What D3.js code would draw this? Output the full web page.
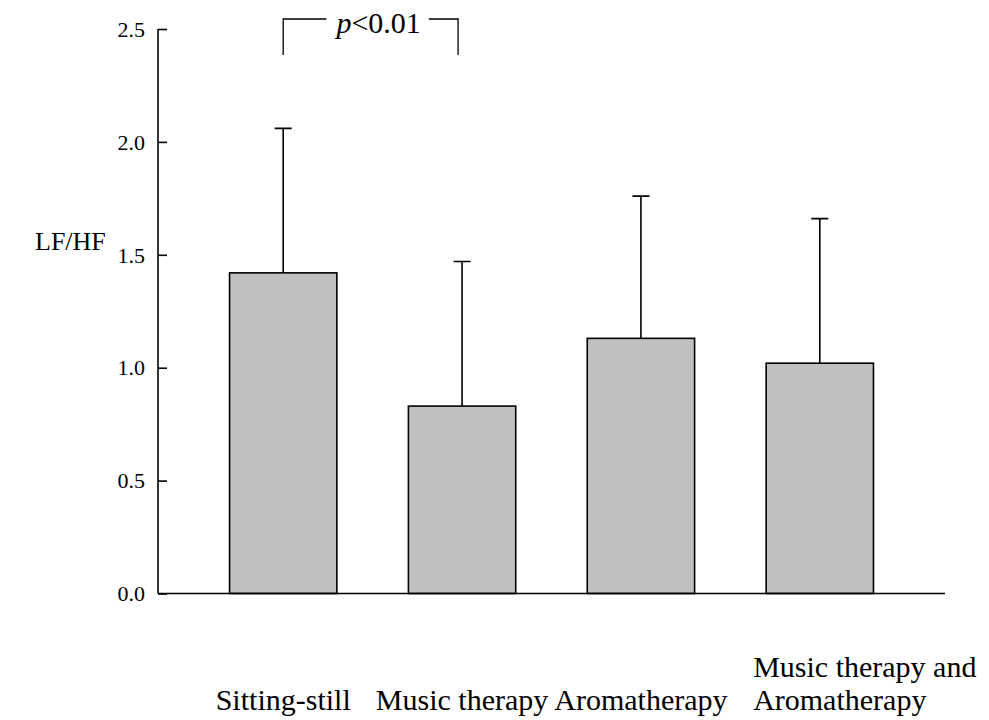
<!DOCTYPE html>
<html>
<head>
<meta charset="utf-8">
<script src="https://cdn.jsdelivr.net/npm/d3@7"></script>
<style>
    body { margin: 0; background: #fff; }
    text { font-family: "Liberation Serif", "Times New Roman", serif; fill: #000; }
</style>
</head>
<body>
<div id="chart"></div>
<script>
const categories = ["Sitting-still", "Music therapy", "Aromatherapy", "Music therapy and\nAromatherapy"];
const means = [1.42, 0.83, 1.13, 1.02];
const errors = [0.64, 0.64, 0.63, 0.64];   // upper SD
const y_ticks = [0.0, 0.5, 1.0, 1.5, 2.0, 2.5];
const sig_pair = [0, 1];
const sig_label = "<0.01";

const width = 989, height = 720;

const svg = d3.select("#chart").append("svg")
    .attr("width", width)
    .attr("height", height);

const x = d3.scaleBand()
    .domain(categories)
    .range([158, 945])
    .padding(0.4);

const y = d3.scaleLinear()
    .domain([0, 2.5])
    .range([593.5, 29]);

// y axis (ticks inside)
const yAxis = svg.append("g")
    .attr("class", "yAxis")
    .attr("transform", "translate(158,0)")
    .call(d3.axisLeft(y).tickValues(y_ticks).tickSize(-9).tickPadding(13).tickFormat(d3.format(".1f")));
yAxis.attr("font-family", null).attr("font-size", null);
yAxis.select(".domain").attr("d", `M0,${y(2.5)}V${y(0)}`).attr("stroke", "#000").attr("stroke-width", 1.6);
yAxis.selectAll(".tick line").attr("stroke", "#000").attr("stroke-width", 1.6);
yAxis.selectAll(".tick text")
    .style("font-family", "'Liberation Serif', serif")
    .style("font-size", "22px")
    .attr("dy", "0.33em");

// bars
const chartBody = svg.append("g").attr("class", "chartBody");

chartBody.selectAll(".err")
    .data(categories)
    .enter().append("path")
    .attr("class", "err")
    .attr("fill", "none")
    .attr("stroke", "#000")
    .attr("stroke-width", 1.6)
    .attr("d", (d, i)=>{
        const cx = x(d) + x.bandwidth() / 2;
        const top = y(means[i] + errors[i]);
        return `M${cx},${y(means[i])}V${top}M${cx - 8.5},${top}H${cx + 8.5}`;
    });

chartBody.selectAll("rect")
    .data(categories)
    .enter().append("rect")
    .attr("x", d=>{ return x(d); })
    .attr("y", (d, i)=>{ return y(means[i]); })
    .attr("width", x.bandwidth())
    .attr("height", (d, i)=>{ return y(0) - y(means[i]); })
    .attr("fill", "#c0c0c0")
    .attr("stroke", "#000")
    .attr("stroke-width", 1.6);

// x axis line
svg.append("line")
    .attr("x1", 158).attr("x2", 945)
    .attr("y1", y(0)).attr("y2", y(0))
    .attr("stroke", "#000")
    .attr("stroke-width", 1.6);

// category labels
const catLabels = svg.append("g").attr("class", "xAxis");
catLabels.selectAll("text")
    .data(categories)
    .enter().append("text")
    .attr("font-size", "30px")
    .each(function(d){
        const lines = d.split("\n");
        const t = d3.select(this);
        if (lines.length === 1) {
            t.attr("text-anchor", "middle")
             .attr("x", x(d) + x.bandwidth() / 2)
             .attr("y", 710)
             .text(d);
        } else {
            lines.forEach((ln, k)=>{
                t.append("tspan")
                    .attr("x", x(d) - 13)
                    .attr("y", 710 - (lines.length - 1 - k) * 33)
                    .text(ln);
            });
        }
    });

// y label
svg.append("text")
    .attr("x", 35)
    .attr("y", 250)
    .attr("font-size", "26px")
    .text("LF/HF");

// significance bracket
const bx1 = x(categories[sig_pair[0]]) + x.bandwidth() / 2;
const bx2 = x(categories[sig_pair[1]]) + x.bandwidth() / 2 - 4;
const by = 19, bbot = 55;
const sigText = svg.append("text")
    .attr("x", (bx1 + bx2) / 2 + 8)
    .attr("y", 33)
    .attr("text-anchor", "middle")
    .attr("font-size", "30px");
sigText.append("tspan").attr("font-style", "italic").text("p");
sigText.append("tspan").text(sig_label);

const tb = sigText.node().getBBox();
svg.append("path")
    .attr("fill", "none")
    .attr("stroke", "#000")
    .attr("stroke-width", 1.3)
    .attr("d", `M${bx1},${bbot}V${by}H${tb.x - 8}M${tb.x + tb.width + 8},${by}H${bx2}V${bbot}`);
</script>
</body>
</html>
